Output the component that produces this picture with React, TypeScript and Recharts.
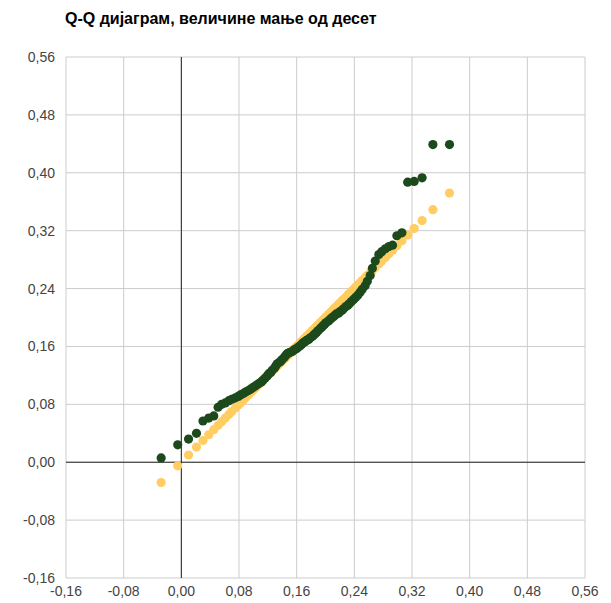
import React from "react";
import { ScatterChart, Scatter, XAxis, YAxis, CartesianGrid, ReferenceLine } from "recharts";

const theoretical = [
  -0.028, -0.005, 0.010, 0.021, 0.030, 0.038, 0.045, 0.051, 0.056, 0.061,
  0.066, 0.070, 0.075, 0.079, 0.082, 0.086, 0.089, 0.093, 0.096, 0.099,
  0.102, 0.105, 0.108, 0.111, 0.113, 0.116, 0.119, 0.121, 0.124, 0.126,
  0.129, 0.131, 0.133, 0.136, 0.138, 0.140, 0.143, 0.145, 0.147, 0.149,
  0.151, 0.154, 0.156, 0.158, 0.160, 0.162, 0.165, 0.167, 0.169, 0.171,
  0.173, 0.175, 0.177, 0.179, 0.182, 0.184, 0.186, 0.188, 0.190, 0.193,
  0.195, 0.197, 0.199, 0.201, 0.204, 0.206, 0.208, 0.211, 0.213, 0.215,
  0.218, 0.220, 0.223, 0.225, 0.228, 0.231, 0.233, 0.236, 0.239, 0.242,
  0.245, 0.248, 0.251, 0.255, 0.258, 0.262, 0.265, 0.269, 0.274, 0.278,
  0.283, 0.288, 0.293, 0.299, 0.306, 0.314, 0.323, 0.334, 0.349, 0.372,
];

const sample = [
  0.006, 0.024, 0.032, 0.040, 0.057, 0.061, 0.064, 0.076, 0.080, 0.082,
  0.085, 0.087, 0.089, 0.091, 0.093, 0.095, 0.097, 0.099, 0.101, 0.103,
  0.105, 0.107, 0.109, 0.111, 0.113, 0.116, 0.119, 0.122, 0.124, 0.127,
  0.130, 0.133, 0.136, 0.138, 0.140, 0.142, 0.145, 0.148, 0.150, 0.151,
  0.152, 0.153, 0.155, 0.156, 0.157, 0.159, 0.161, 0.163, 0.165, 0.166,
  0.168, 0.169, 0.170, 0.172, 0.174, 0.176, 0.178, 0.180, 0.182, 0.185,
  0.187, 0.189, 0.191, 0.193, 0.195, 0.197, 0.199, 0.201, 0.203, 0.205,
  0.206, 0.208, 0.210, 0.212, 0.215, 0.217, 0.219, 0.222, 0.225, 0.228,
  0.231, 0.235, 0.239, 0.244, 0.250, 0.258, 0.268, 0.278, 0.287, 0.291,
  0.295, 0.298, 0.300, 0.313, 0.317, 0.387, 0.388, 0.393, 0.439, 0.439,
];

const ticks = [-0.16, -0.08, 0.0, 0.08, 0.16, 0.24, 0.32, 0.4, 0.48, 0.56];
const title = "Q-Q дијаграм, величине мање од десет";

const lineData = theoretical.map((t) => ({ x: t, y: t }));
const sampleData = theoretical.map((t, i) => ({ x: t, y: sample[i] }));

const fmt = (v: number) => v.toFixed(2).replace(".", ",");

const dot = (color: string) => (props: any) => (
  <circle cx={props.cx} cy={props.cy} r={4.6} fill={color} />
);

export default function App() {
  return (
    <div style={{ position: "relative", width: 603, height: 595, fontFamily: "Arial, 'Liberation Sans', sans-serif" }}>
      <div
        style={{
          position: "absolute",
          left: 57,
          top: 2,
          fontSize: 16,
          fontWeight: "bold",
          color: "#000",
          fontFamily: "Arial, 'Liberation Sans', sans-serif",
          whiteSpace: "nowrap",
        }}
      >
        {title}
      </div>
      <ScatterChart
        width={603}
        height={595}
        margin={{ top: 49, right: 26, bottom: 0, left: 0 }}
      >
        <CartesianGrid stroke="#cccccc" strokeWidth={1} horizontalValues={ticks} verticalValues={ticks} />
        <XAxis
          type="number"
          dataKey="x"
          domain={[-0.16, 0.56]}
          ticks={ticks}
          tickFormatter={fmt}
          axisLine={false}
          tickLine={false}
          tickSize={0}
          tickMargin={8}
          height={25}
          interval={0}
          allowDataOverflow
          tick={{ fill: "#444444", fontSize: 14 }}
        />
        <YAxis
          type="number"
          dataKey="y"
          domain={[-0.16, 0.56]}
          ticks={ticks}
          tickFormatter={fmt}
          axisLine={false}
          tickLine={false}
          tickSize={0}
          tickMargin={11}
          width={58}
          interval={0}
          allowDataOverflow
          tick={{ fill: "#444444", fontSize: 14 }}
        />
        <ReferenceLine x={0} stroke="#222222" strokeWidth={1} />
        <ReferenceLine y={0} stroke="#222222" strokeWidth={1} />
        <Scatter data={lineData} fill="#ffcd61" shape={dot("#ffcd61")} isAnimationActive={false} />
        <Scatter data={sampleData} fill="#1c4a1c" shape={dot("#1c4a1c")} isAnimationActive={false} />
      </ScatterChart>
    </div>
  );
}
